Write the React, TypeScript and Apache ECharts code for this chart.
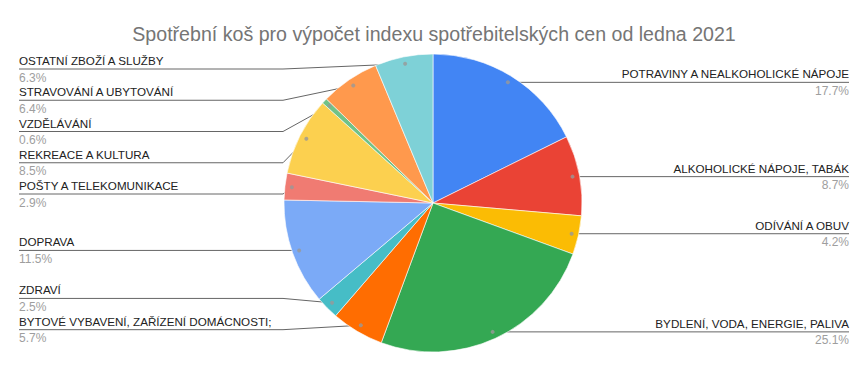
import React, { useEffect, useRef } from "react";
import * as echarts from "echarts";

const TITLE = "Spotřební koš pro výpočet indexu spotřebitelských cen od ledna 2021";

const categories = [
  "POTRAVINY A NEALKOHOLICKÉ NÁPOJE",
  "ALKOHOLICKÉ NÁPOJE, TABÁK",
  "ODÍVÁNÍ A OBUV",
  "BYDLENÍ, VODA, ENERGIE, PALIVA",
  "BYTOVÉ VYBAVENÍ, ZAŘÍZENÍ DOMÁCNOSTI;",
  "ZDRAVÍ",
  "DOPRAVA",
  "POŠTY A TELEKOMUNIKACE",
  "REKREACE A KULTURA",
  "VZDĚLÁVÁNÍ",
  "STRAVOVÁNÍ A UBYTOVÁNÍ",
  "OSTATNÍ ZBOŽÍ A SLUŽBY",
];

const shares = [17.7, 8.7, 4.2, 25.1, 5.7, 2.5, 11.5, 2.9, 8.5, 0.6, 6.4, 6.3];

const colors = [
  "#4285F4", "#EA4335", "#FBBC04", "#34A853", "#FF6D01", "#46BDC6",
  "#7BAAF7", "#F07B72", "#FCD04F", "#71C287", "#FF994D", "#7ED1D7",
];

const FONT = "'Liberation Sans', Arial, sans-serif";

// layout constants
const CX = 433;
const CY = 203;
const R = 149;
const DOT_R = 142;
const GAP = 31.25;
const MIN_Y = 69;
const MAX_Y = 352;
const LEFT_X = 19;
const RIGHT_X = 849;

type Lay = { left: boolean; y0: number; y: number; dx: number; dy: number; mid: number };

function computeLayout(): Lay[] {
  const total = shares.reduce((a, b) => a + b, 0);
  let cum = 0;
  const lays: Lay[] = shares.map((v) => {
    const midVal = cum + v / 2;
    cum += v;
    const a = (midVal / total) * Math.PI * 2;
    const dx = CX + DOT_R * Math.sin(a);
    const dy = CY - DOT_R * Math.cos(a);
    return { left: dx < CX, y0: dy, y: dy, dx, dy, mid: midVal };
  });
  const spread = (items: Lay[]) => {
    const sorted = items.slice().sort((a, b) => a.y0 - b.y0);
    let groups = sorted.map((it) => ({ members: [it] }));
    const place = (g: { members: Lay[] }) => {
      const n = g.members.length;
      const c = g.members.reduce((s, m) => s + m.y0, 0) / n;
      let top = c - ((n - 1) * GAP) / 2;
      if (top < MIN_Y) top = MIN_Y;
      if (top + (n - 1) * GAP > MAX_Y) top = MAX_Y - (n - 1) * GAP;
      return top;
    };
    let changed = true;
    while (changed) {
      changed = false;
      for (let i = 0; i < groups.length - 1; i++) {
        const a = groups[i];
        const b = groups[i + 1];
        const aBottom = place(a) + (a.members.length - 1) * GAP;
        const bTop = place(b);
        if (bTop - aBottom < GAP) {
          groups.splice(i, 2, { members: a.members.concat(b.members) });
          changed = true;
          break;
        }
      }
    }
    groups.forEach((g) => {
      const top = place(g);
      g.members.forEach((m, k) => (m.y = top + k * GAP));
    });
  };
  spread(lays.filter((l) => l.left));
  spread(lays.filter((l) => !l.left));
  return lays;
}

export default function App() {
  const ref = useRef<HTMLDivElement>(null);
  useEffect(() => {
    if (!ref.current) return;
    const chart = echarts.init(ref.current, undefined, { renderer: "svg" });
    const total = shares.reduce((a, b) => a + b, 0);
    const lays = computeLayout();
    chart.setOption({
      animation: false,
      backgroundColor: "#ffffff",
      title: {
        text: TITLE,
        left: "center",
        top: 19,
        textStyle: { fontFamily: FONT, fontSize: 19.6, fontWeight: "normal", color: "#757575" },
      },
      polar: { center: [CX, CY], radius: R },
      angleAxis: {
        type: "value", min: 0, max: total, startAngle: 90, clockwise: true,
        show: false, axisLine: { show: false }, axisLabel: { show: false },
        axisTick: { show: false }, splitLine: { show: false },
      },
      radiusAxis: {
        type: "value", min: 0, max: R, show: false,
        axisLine: { show: false }, axisLabel: { show: false },
        axisTick: { show: false }, splitLine: { show: false },
      },
      series: [
        {
          type: "pie",
          center: [CX, CY],
          radius: R,
          startAngle: 90,
          clockwise: true,
          avoidLabelOverlap: false,
          silent: true,
          itemStyle: { borderColor: "#ffffff", borderWidth: 0.6 },
          data: categories.map((c, i) => ({ name: c, value: shares[i], itemStyle: { color: colors[i] } })),
          label: {
            show: true,
            position: "outside",
            fontFamily: FONT,
            formatter: (p: any) => `{n|${p.name}}\n{p|${Number(p.value).toFixed(1)}%}`,
            rich: {
              n: { fontFamily: FONT, fontSize: 11.65, color: "#222222", lineHeight: 17 },
              p: { fontFamily: FONT, fontSize: 12, color: "#9e9e9e", lineHeight: 17 },
            },
          },
          labelLine: { show: true, length: 0, length2: 0, smooth: false, lineStyle: { color: "#666666", width: 1 } },
          labelLayout: (params: any) => {
            const L = lays[params.dataIndex];
            const bx = L.left ? CX - R - 1 : Math.max(CX + R + 1, L.dx);
            const ex = L.left ? LEFT_X : RIGHT_X;
            return {
              x: ex,
              y: L.y,
              align: L.left ? "left" : "right",
              verticalAlign: "middle",
              labelLinePoints: [[L.dx, L.dy], [bx, L.y], [ex, L.y]],
            };
          },
          emphasis: { disabled: true },
          z: 2,
        },
        {
          type: "scatter",
          coordinateSystem: "polar",
          symbol: "circle",
          symbolSize: 4,
          silent: true,
          itemStyle: { color: "#999999" },
          data: lays.map((l) => [DOT_R, l.mid]),
          z: 5,
        },
      ],
    });
    return () => chart.dispose();
  }, []);
  return (
    <div
      ref={ref}
      style={{ position: "absolute", left: 0, top: 0, width: 868, height: 371, background: "#fff" }}
    />
  );
}
